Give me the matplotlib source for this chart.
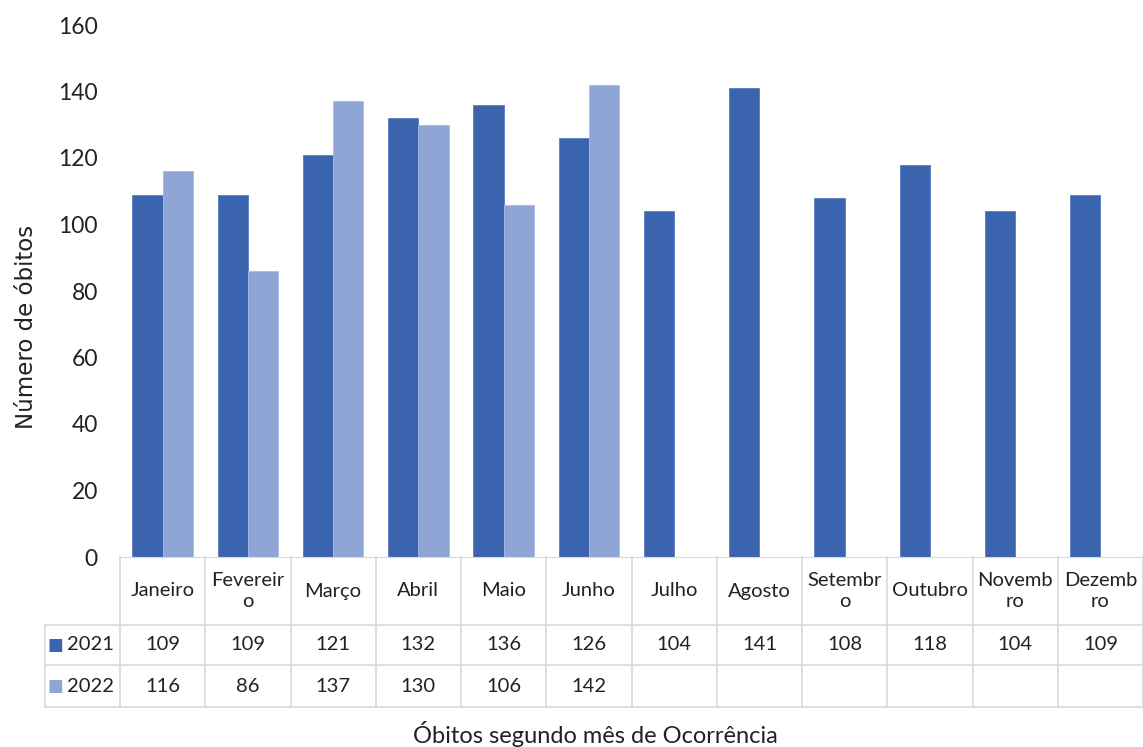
import numpy as np
import matplotlib.pyplot as plt
from matplotlib.transforms import blended_transform_factory

# Dados do grafico
meses = ['Janeiro', 'Fevereir\no', 'Março', 'Abril', 'Maio', 'Junho', 'Julho',
         'Agosto', 'Setembr\no', 'Outubro', 'Novemb\nro', 'Dezemb\nro']
obitos_2021 = [109, 109, 121, 132, 136, 126, 104, 141, 108, 118, 104, 109]
obitos_2022 = [116, 86, 137, 130, 106, 142]
anos = ['2021', '2022']

COR_2021 = '#3A64AD'
COR_2022 = '#8FA5D6'
COR_GRADE = '#D9D9D9'
COR_TXT = '#222222'
FONTE = ['Lato', 'DejaVu Sans']

W, H = 1143, 747
fig = plt.figure(figsize=(W / 100, H / 100), dpi=100)
# area do grafico em pixels: x 120-1143, y 25-557
ax = fig.add_axes([120 / W, 1 - 557 / H, (1143 - 120) / W, (557 - 25) / H])

x = np.arange(len(meses))
larg = 0.355
ax.bar(x[:len(obitos_2021)] - larg / 2, obitos_2021, larg, color=COR_2021,
       edgecolor='#5A7CC0', linewidth=0.6)
ax.bar(x[:len(obitos_2022)] + larg / 2, obitos_2022, larg, color=COR_2022,
       edgecolor='#A9BBE2', linewidth=0.6)

ax.set_xlim(-0.5, len(meses) - 0.5)
ax.set_ylim(0, 160)
ax.set_yticks(range(0, 161, 20))
ax.set_xticks([])
for s in ['top', 'right', 'left']:
    ax.spines[s].set_visible(False)
ax.spines['bottom'].set_color(COR_GRADE)
ax.tick_params(axis='y', length=0, pad=16, labelsize=16.5)
for lb in ax.get_yticklabels():
    lb.set_family(FONTE)
    lb.set_color(COR_TXT)

fig.text(27 / W, 1 - 327 / H, 'Número de óbitos', rotation=90, ha='center',
         va='center', fontsize=16.5, family='DejaVu Sans', color=COR_TXT)

# tabela de dados abaixo do grafico
tr = blended_transform_factory(ax.transData, fig.transFigure)
x_leg = -0.5 - 75 / 85.25
y_base = 1 - 557 / H
y_r1 = 1 - 625 / H
y_r2 = 1 - 665 / H
y_r3 = 1 - 707 / H
xr = len(meses) - 0.5

def linha(xs, ys):
    fig.add_artist(plt.Line2D(xs, ys, transform=tr, color=COR_GRADE, lw=1.2))

for yy in [y_r1, y_r2, y_r3]:
    linha([x_leg, xr], [yy, yy])
linha([x_leg, x_leg], [y_r1, y_r3])
for i in range(len(meses) + 1):
    linha([i - 0.5, i - 0.5], [y_base, y_r3])

for i, m in enumerate(meses):
    fig.text(i, (y_base + y_r1) / 2, m, transform=tr, ha='center', va='center',
             fontsize=14.5, family=FONTE, color=COR_TXT, linespacing=1.35)
    fig.text(i, (y_r1 + y_r2) / 2, str(obitos_2021[i]), transform=tr,
             ha='center', va='center', fontsize=14.5, family=FONTE, color=COR_TXT)
    if i < len(obitos_2022):
        fig.text(i, (y_r2 + y_r3) / 2, str(obitos_2022[i]), transform=tr,
                 ha='center', va='center', fontsize=14.5, family=FONTE, color=COR_TXT)

# legenda dentro da tabela
for ano, cor, (ya, yb) in zip(anos, [COR_2021, COR_2022], [(y_r1, y_r2), (y_r2, y_r3)]):
    ym = (ya + yb) / 2
    fig.text(-0.5 - 72 / 85.25, ym, '\u25A0', transform=tr, ha='left', va='center',
             fontsize=12, color=cor, family='DejaVu Sans')
    fig.text(-0.5 - 53 / 85.25, ym, ano, transform=tr, ha='left', va='center',
             fontsize=14.5, family=FONTE, color=COR_TXT)

fig.text(595 / W, 1 - 734 / H, 'Óbitos segundo mês de Ocorrência',
         ha='center', va='center', fontsize=17, family=FONTE, color=COR_TXT)

fig.savefig('out.png', dpi=100)
